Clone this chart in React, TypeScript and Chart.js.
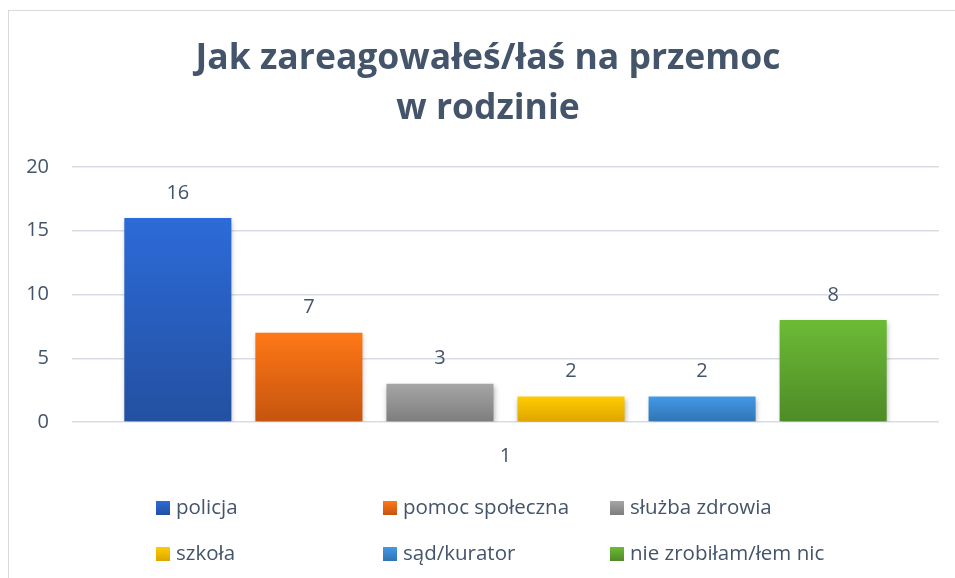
import React, { useEffect, useRef } from "react";
import { Chart, registerables } from "chart.js";

Chart.register(...registerables);

const categories = ["1"];
const seriesNames = [
  "policja",
  "pomoc społeczna",
  "służba zdrowia",
  "szkoła",
  "sąd/kurator",
  "nie zrobiłam/łem nic",
];
const seriesValues = [16, 7, 3, 2, 2, 8];
const yTicks = [0, 5, 10, 15, 20];
const titleLines = ["Jak zareagowałeś/łaś na przemoc", "w rodzinie"];

const gradTop = ["#2C6BD8", "#FF7816", "#A6A6A6", "#FFCC00", "#4499E5", "#6CBB36"];
const gradBottom = ["#2350A0", "#C5540F", "#7D7D7D", "#DDA500", "#2F74B5", "#4E8B27"];

const TEXT = "#44546A";
const FONT = "'Open Sans'";

const customPlugin = {
  id: "custom",
  beforeDatasetsDraw(chart: any) {
    const c = chart.ctx;
    c.save();
    c.shadowColor = "rgba(0,0,0,0.28)";
    c.shadowBlur = 5;
    c.shadowOffsetX = 1;
    c.shadowOffsetY = 2;
  },
  afterDatasetsDraw(chart: any) {
    const c = chart.ctx;
    c.restore();
    c.save();
    c.fillStyle = TEXT;
    c.font = `20px ${FONT}`;
    c.textAlign = "center";
    c.textBaseline = "middle";
    chart.data.datasets.forEach((ds: any, i: number) => {
      const meta = chart.getDatasetMeta(i);
      meta.data.forEach((el: any, j: number) => {
        c.fillText(String(ds.data[j]), el.x, el.y - 25);
      });
    });
    c.restore();
  },
  afterDraw(chart: any) {
    const c = chart.ctx;
    c.save();
    c.font = `20.5px ${FONT}`;
    c.textBaseline = "middle";
    c.textAlign = "left";
    const colX = [147, 374, 601];
    const rowY = [497, 543];
    chart.data.datasets.forEach((ds: any, i: number) => {
      const x = colX[i % 3];
      const y = rowY[Math.floor(i / 3)];
      const g = c.createLinearGradient(0, y - 7, 0, y + 7);
      g.addColorStop(0, gradTop[i]);
      g.addColorStop(1, gradBottom[i]);
      c.fillStyle = g;
      c.fillRect(x, y - 7, 14, 14);
      c.fillStyle = TEXT;
      c.fillText(ds.label, x + 20, y);
    });
    c.restore();
  },
};

export default function App() {
  const ref = useRef<HTMLCanvasElement | null>(null);

  useEffect(() => {
    if (!ref.current) return;
    const datasets = seriesNames.map((name, i) => ({
      label: name,
      data: [seriesValues[i]],
      backgroundColor: (ctx: any) => {
        const chart = ctx.chart;
        const y = chart.scales && chart.scales.y;
        if (!y || ctx.raw === undefined) return gradTop[i];
        const y0 = y.getPixelForValue(ctx.raw);
        const y1 = y.getPixelForValue(0);
        if (!isFinite(y0) || !isFinite(y1) || y0 === y1) return gradTop[i];
        const g = chart.ctx.createLinearGradient(0, y0, 0, y1);
        g.addColorStop(0, gradTop[i]);
        g.addColorStop(1, gradBottom[i]);
        return g;
      },
      borderWidth: 0,
      categoryPercentage: 0.907,
      barPercentage: 0.817,
    }));

    const chart = new Chart(ref.current, {
      type: "bar",
      data: { labels: categories, datasets },
      options: {
        responsive: false,
        animation: false,
        layout: { padding: { left: 0, right: 0, top: 0, bottom: 88 } },
        plugins: {
          legend: { display: false },
          tooltip: { enabled: false },
          title: {
            display: true,
            text: titleLines,
            color: TEXT,
            font: { family: FONT, size: 35.5, weight: "bold", lineHeight: "50px" },
            padding: { top: 23, bottom: 33 },
          },
        },
        scales: {
          x: {
            grid: { display: false, drawTicks: false },
            border: { display: false },
            ticks: { color: TEXT, font: { family: FONT, size: 20 }, padding: 22 },
          },
          y: {
            min: 0,
            max: 20,
            afterBuildTicks: (s: any) => {
              s.ticks = yTicks.map((v) => ({ value: v }));
            },
            afterFit: (s: any) => {
              s.width = 63;
            },
            grid: { color: "#D9DDE3", lineWidth: 1.5, drawTicks: false },
            border: { display: false },
            ticks: { color: TEXT, font: { family: FONT, size: 20 }, padding: 23 },
          },
          yR: {
            type: "linear",
            position: "right",
            display: true,
            grid: { display: false, drawTicks: false },
            border: { display: false },
            ticks: { display: false },
            afterFit: (s: any) => {
              s.width = 28;
            },
          },
        },
      } as any,
      plugins: [customPlugin],
    });
    return () => chart.destroy();
  }, []);

  return (
    <div style={{ position: "absolute", left: 8, top: 10, width: 947, height: 568, overflow: "hidden", background: "#fff" }}>
      <div
        style={{
          position: "absolute",
          left: 0,
          top: 0,
          width: 1000,
          height: 1000,
          borderLeft: "1px solid #D9D9D9",
          borderTop: "1px solid #D9D9D9",
          boxSizing: "border-box",
        }}
      >
        <canvas ref={ref} width={958} height={567} style={{ position: "absolute", left: 0, top: 0, display: "block" }} />
      </div>
    </div>
  );
}
